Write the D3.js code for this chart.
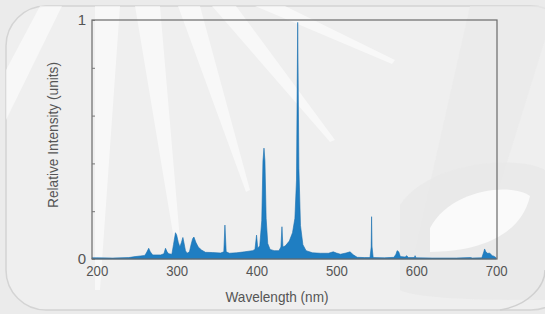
<!DOCTYPE html>
<html>
<head>
<meta charset="utf-8">
<script src="https://cdn.jsdelivr.net/npm/d3@7"></script>
<style>
  html, body { margin: 0; padding: 0; background: #ebebeb; }
  svg { display: block; }
  text { font-family: "Liberation Sans", Arial, sans-serif; fill: #555; }
</style>
</head>
<body>
<svg id="chart"></svg>
<script>
// ── Data ────────────────────────────────────────────
const wavelength = [
  194, 200, 220, 240, 248, 255, 260, 262, 265, 267, 270, 280, 284, 286, 288, 290, 294,
  296, 298.5, 300, 302, 304, 306, 307.8, 309, 311, 313, 316, 318, 320, 321.6, 324, 327,
  331, 336, 345, 355, 359, 360.4, 362, 366, 375, 385, 395, 398, 400, 401.5, 404, 406.5,
  408, 409.3, 410.5, 412, 414, 417, 422, 428, 430.5, 431.8, 433, 436, 441, 445, 448, 450,
  451.5, 453, 455, 458, 462, 470, 480, 490, 496, 500, 505, 512, 517, 521, 526, 535, 542,
  543.5, 544, 544.6, 546, 560, 572, 574.5, 576, 578, 580, 586, 588, 590, 597.5, 598.5,
  599.5, 620, 650, 668, 670, 682, 684.5, 685.5, 687, 689, 692, 695, 697, 700
];
const intensity = [
  0.005, 0.005, 0.004, 0.006, 0.010, 0.013, 0.015, 0.025, 0.045, 0.030, 0.017, 0.017, 0.022, 0.045, 0.030, 0.022, 0.020,
  0.060, 0.110, 0.100, 0.070, 0.050, 0.070, 0.090, 0.070, 0.035, 0.024, 0.030, 0.060, 0.085, 0.092, 0.070, 0.050,
  0.038, 0.028, 0.027, 0.025, 0.030, 0.142, 0.030, 0.024, 0.026, 0.030, 0.035, 0.040, 0.100, 0.045, 0.055, 0.160,
  0.410, 0.464, 0.410, 0.170, 0.065, 0.040, 0.035, 0.035, 0.050, 0.135, 0.050, 0.055, 0.075, 0.110, 0.170, 0.330,
  0.990, 0.380, 0.140, 0.060, 0.035, 0.026, 0.024, 0.024, 0.030, 0.025, 0.020, 0.025, 0.030, 0.018, 0.007, 0.006, 0.006,
  0.050, 0.177, 0.050, 0.006, 0.005, 0.007, 0.020, 0.035, 0.030, 0.010, 0.008, 0.014, 0.006, 0.006, 0.014,
  0.005, 0.004, 0.004, 0.006, 0.004, 0.005, 0.030, 0.042, 0.030, 0.024, 0.024, 0.014, 0.012, 0.005
];
const xTicks = [200, 300, 400, 500, 600, 700];
const yTicks = [0, 0.2, 0.4, 0.6, 0.8, 1];
const yLabels = { 0: '0', 1: '1' };

// ── Layout ──────────────────────────────────────────
const W = 545, H = 314;
const svg = d3.select('#chart').attr('width', W).attr('height', H);

const x = d3.scaleLinear().domain([194, 701]).range([92, 497]);
const y = d3.scaleLinear().domain([0, 1]).range([259, 20]);

// ── Decorative background ───────────────────────────
svg.append('rect')
  .attr('x', 6).attr('y', 6).attr('width', W + 20).attr('height', H - 10)
  .attr('rx', 40)
  .attr('fill', '#efefef')
  .attr('stroke', '#d4d4d4').attr('stroke-width', 1.5);

const deco = svg.append('g');
// faint light rays fanning down-left from the top
const rays = [
  [[95, 6], [120, 6], [100, 290], [95, 290]],
  [[135, 6], [160, 6], [180, 240], [174, 240]],
  [[178, 6], [200, 6], [250, 190], [246, 192]],
  [[212, 6], [236, 6], [335, 140], [330, 142]],
  [[255, 6], [285, 6], [395, 60], [392, 64]],
  [[6, 70], [40, 6], [62, 6], [6, 120]]
];
deco.selectAll('polygon.ray')
  .data(rays)
  .join('polygon')
    .attr('class', 'ray')
    .attr('points', d => d.map(p => p.join(',')).join(' '))
    .attr('fill', '#ffffff')
    .attr('opacity', 0.55);

// faint grey slanted band and rounded shape on the right
deco.append('polygon')
  .attr('points', '470,6 545,6 545,40 480,250 415,250')
  .attr('fill', '#e9e9e9').attr('opacity', 0.7);
deco.append('path')
  .attr('d', 'M400,205 C430,160 520,155 545,170 L545,300 C500,300 420,300 400,290 Z')
  .attr('fill', '#e9e9e9').attr('opacity', 0.8);
deco.append('path')
  .attr('d', 'M430,228 C450,190 510,182 530,196 C520,240 470,252 430,252 Z')
  .attr('fill', '#fafafa');
deco.append('path')
  .attr('d', 'M500,310 C530,305 545,285 545,270')
  .attr('fill', 'none').attr('stroke', '#d0d0d0').attr('stroke-width', 1.5);

// ── Spectrum area ───────────────────────────────────
const data = wavelength.map((w, i) => ({ w, v: intensity[i] }));

const area = d3.area()
  .x(d => x(d.w))
  .y0(y(0))
  .y1(d => y(d.v));

svg.append('path')
  .datum(data)
  .attr('d', area)
  .attr('fill', '#1f7ec2')
  .attr('stroke', '#1a6fae')
  .attr('stroke-width', 0.6);

// ── Frame and axes ──────────────────────────────────
svg.append('rect')
  .attr('x', x.range()[0]).attr('y', y.range()[1])
  .attr('width', x.range()[1] - x.range()[0])
  .attr('height', y.range()[0] - y.range()[1])
  .attr('fill', 'none')
  .attr('stroke', '#6a6a6a').attr('stroke-width', 1.2);

const yAxis = d3.axisLeft(y)
  .tickValues(yTicks)
  .tickSize(-3)
  .tickPadding(6)
  .tickFormat(d => yLabels[d] || '');

const yG = svg.append('g')
  .attr('transform', `translate(${x.range()[0]},0)`)
  .call(yAxis);
yG.select('.domain').remove();
yG.selectAll('line').attr('stroke', '#777');
yG.selectAll('text').attr('font-size', 15).attr('fill', '#555');

const xAxis = d3.axisBottom(x)
  .tickValues(xTicks)
  .tickSize(0)
  .tickPadding(6);

const xG = svg.append('g')
  .attr('transform', `translate(0,${y.range()[0]})`)
  .call(xAxis);
xG.select('.domain').remove();
xG.selectAll('text')
  .attr('font-size', 15).attr('fill', '#555')
  .attr('textLength', 22).attr('lengthAdjust', 'spacingAndGlyphs');

// ── Axis titles ─────────────────────────────────────
svg.append('text')
  .attr('x', 277).attr('y', 302)
  .attr('text-anchor', 'middle')
  .attr('font-size', 15)
  .attr('textLength', 103).attr('lengthAdjust', 'spacingAndGlyphs')
  .text('Wavelength (nm)');

svg.append('text')
  .attr('transform', 'translate(58,135) rotate(-90)')
  .attr('text-anchor', 'middle')
  .attr('font-size', 15)
  .attr('textLength', 146).attr('lengthAdjust', 'spacingAndGlyphs')
  .text('Relative Intensity (units)');
</script>
</body>
</html>
